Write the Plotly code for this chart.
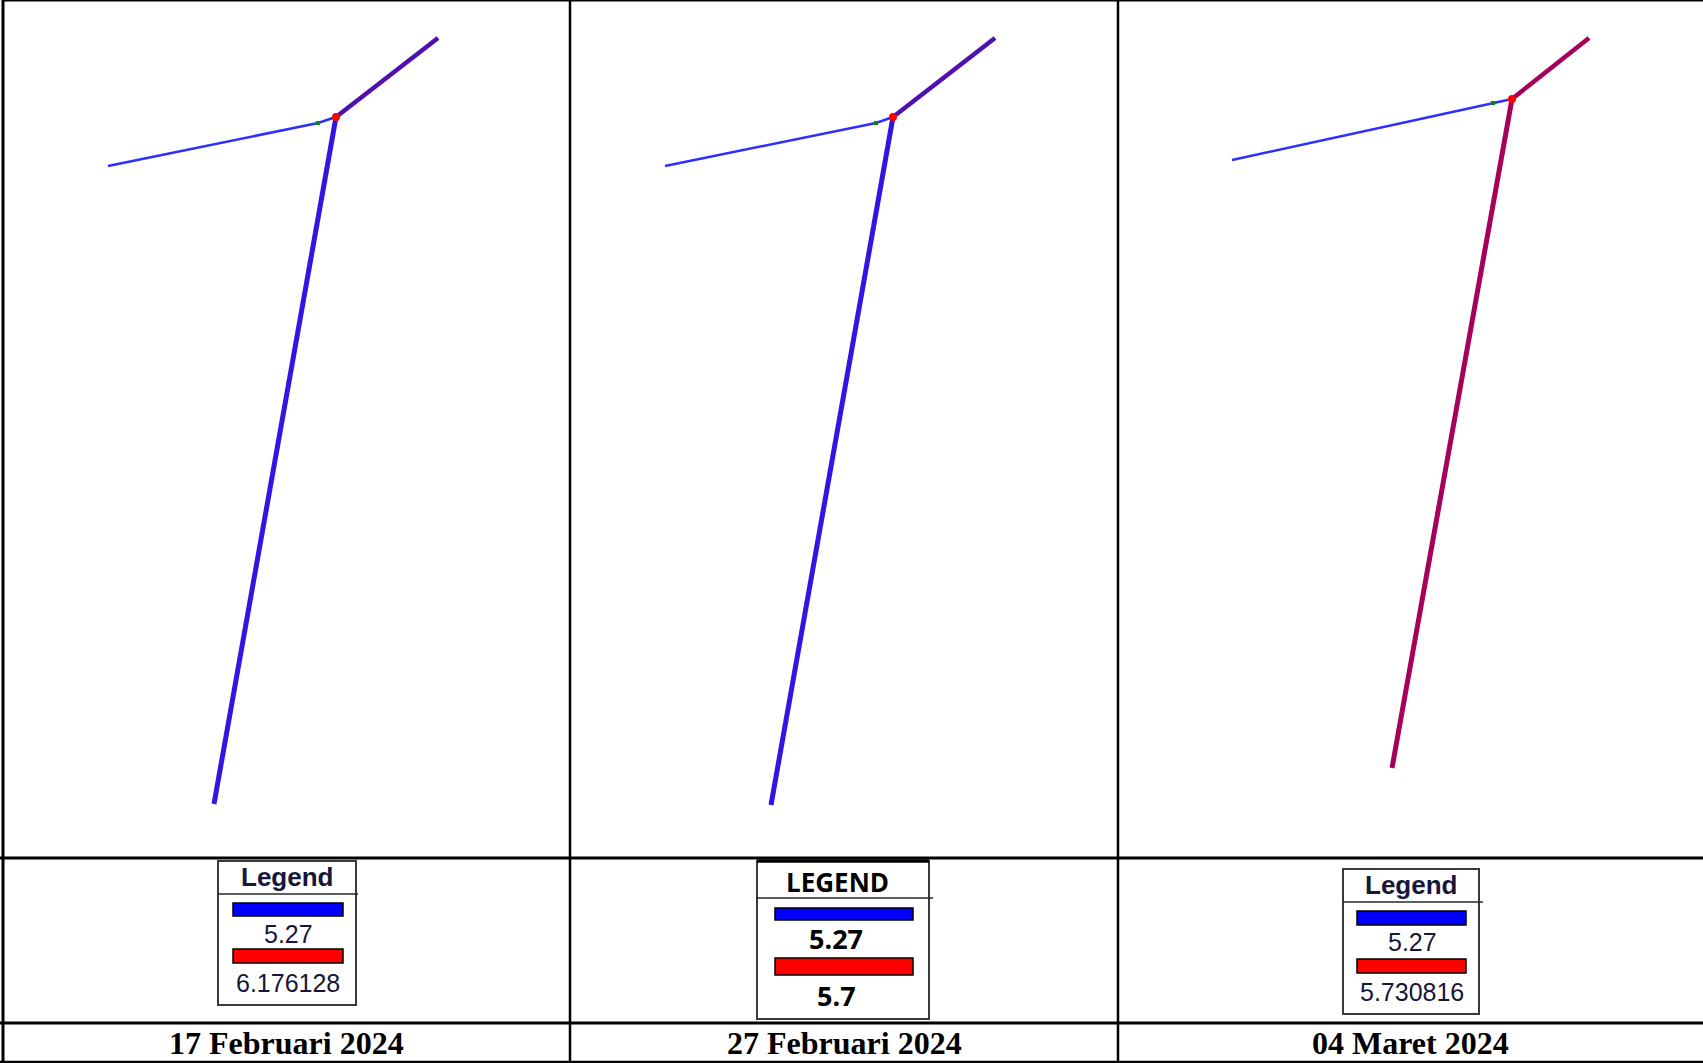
import plotly.graph_objects as go

W, H = 1703, 1063

# ---- data ----
dates = ["17 Februari 2024", "27 Februari 2024", "04 Maret 2024"]
legend_titles = ["Legend", "LEGEND", "Legend"]
legend_blue_vals = ["5.27", "5.27", "5.27"]
legend_red_vals = ["6.176128", "5.7", "5.730816"]

# network nodes per panel, local map units (one unit per pixel of the panel)
west_x = [105, 95, 114]
west_y = [166, 166, 160]
gauge_x = [315, 306, 375]
gauge_y = [123, 123, 103]
junc_x = [333, 323, 394]
junc_y = [117, 117, 99]
ne_x = [435, 425, 471]
ne_y = [38, 38, 38]
south_x = [211, 201, 274]
south_y = [804, 805, 768]

# ---- styles ----
panel_left = [3, 570, 1118]
panel_right = [570, 1118, 1702]
map_bottom = 858
west_color = "#2e2eff"
ne_colors = ["#5010b0", "#5010b0", "#a6005a"]
south_colors = ["#3414e4", "#3414e4", "#a6005a"]


def px(x):
    return x / W


def py(y):
    return 1 - y / H


fig = go.Figure()
axis_off = dict(visible=False, showgrid=False, zeroline=False, fixedrange=True)
layout_axes = {}
for i in range(3):
    sx = "" if i == 0 else str(i + 1)
    xa, ya = "x" + sx, "y" + sx
    layout_axes["xaxis" + sx] = dict(axis_off, domain=[px(panel_left[i]), px(panel_right[i])],
                                     range=[0, panel_right[i] - panel_left[i]], anchor=ya)
    layout_axes["yaxis" + sx] = dict(axis_off, domain=[py(map_bottom), 1],
                                     range=[map_bottom, 0], anchor=xa)
    # west branch (thin blue)
    fig.add_trace(go.Scatter(x=[west_x[i], gauge_x[i], junc_x[i]], y=[west_y[i], gauge_y[i], junc_y[i]],
                             mode="lines", line=dict(color=west_color, width=2.5),
                             xaxis=xa, yaxis=ya, hoverinfo="skip"))
    # north-east branch
    fig.add_trace(go.Scatter(x=[junc_x[i], ne_x[i]], y=[junc_y[i], ne_y[i]],
                             mode="lines", line=dict(color=ne_colors[i], width=4.5),
                             xaxis=xa, yaxis=ya, hoverinfo="skip"))
    # south branch
    fig.add_trace(go.Scatter(x=[junc_x[i], south_x[i]], y=[junc_y[i], south_y[i]],
                             mode="lines", line=dict(color=south_colors[i], width=5),
                             xaxis=xa, yaxis=ya, hoverinfo="skip"))
    # gauge point (green) and junction (red)
    fig.add_trace(go.Scatter(x=[gauge_x[i]], y=[gauge_y[i]], mode="markers",
                             marker=dict(color="#0a8a0a", size=4, symbol="square"),
                             xaxis=xa, yaxis=ya, hoverinfo="skip"))
    fig.add_trace(go.Scatter(x=[junc_x[i]], y=[junc_y[i]], mode="markers",
                             marker=dict(color="#ff0000", size=8),
                             xaxis=xa, yaxis=ya, hoverinfo="skip"))

shapes = []


def line(x0, y0, x1, y1, w=2.5, c="#000000"):
    shapes.append(dict(type="line", xref="paper", yref="paper", x0=px(x0), y0=py(y0),
                       x1=px(x1), y1=py(y1), line=dict(color=c, width=w)))


def rect(x0, y0, x1, y1, fill="rgba(0,0,0,0)", lc="#000000", w=1.5):
    shapes.append(dict(type="rect", xref="paper", yref="paper", x0=px(x0), y0=py(y0),
                       x1=px(x1), y1=py(y1), fillcolor=fill, line=dict(color=lc, width=w)))


# table borders
line(3, 0.7, W, 0.7, 1.5)
line(3, 0, 3, H, 3)
line(570, 0, 570, H, 2.5)
line(1118, 0, 1118, H, 2.5)
line(0, 858, W, 858, 3)
line(0, 1023, W, 1023, 3)
line(0, 1062, W, 1062, 2.5)

annotations = []


def text(x, y, s, size, family, bold=False, color="#16163a"):
    annotations.append(dict(xref="paper", yref="paper", x=px(x), y=py(y), text=(f"<b>{s}</b>" if bold else s),
                            showarrow=False, xanchor="center", yanchor="middle",
                            font=dict(size=size, family=family, color=color)))


# legend boxes (layout per panel)
leg = [
    dict(box=(218, 861, 356, 1005), sep=(894, 358), blue=(233, 903, 343, 916), red=(233, 949, 343, 963),
         t=(287, 877), b=(288, 934), r=(288, 983), fam="Liberation Sans, Arial", vb=False, ts=26, vs=25),
    dict(box=(757, 861, 929, 1019), sep=(898, 933), blue=(775, 908, 913, 920), red=(775, 958, 913, 975),
         t=(837, 882), b=(836, 938), r=(836, 995), fam="Open Sans", vb=True, ts=26, vs=27),
    dict(box=(1343, 869, 1479, 1014), sep=(902, 1483), blue=(1357, 911, 1466, 925), red=(1357, 959, 1466, 973),
         t=(1411, 885), b=(1412, 942), r=(1412, 992), fam="Liberation Sans, Arial", vb=False, ts=26, vs=25),
]
for i, L in enumerate(leg):
    x0, y0, x1, y1 = L["box"]
    rect(x0, y0, x1, y1, lc="#3a3a3a", w=2)
    if i == 1:
        line(x0, y0, x1, y0, 3.5)
    line(x0, L["sep"][0], L["sep"][1], L["sep"][0], 1.5, "#2a2a2a")
    rect(*L["blue"], fill="#0000ff", lc="#000000", w=1.5)
    rect(*L["red"], fill="#ff0000", lc="#000000", w=1.5)
    col = "#16163a" if i != 1 else "#000000"
    text(L["t"][0], L["t"][1], legend_titles[i], L["ts"], L["fam"], bold=True, color=col)
    text(L["b"][0], L["b"][1], legend_blue_vals[i], L["vs"], L["fam"], bold=L["vb"], color=col)
    text(L["r"][0], L["r"][1], legend_red_vals[i], L["vs"], L["fam"], bold=L["vb"], color=col)

# date row
for i, d in enumerate(dates):
    text((panel_left[i] + panel_right[i]) / 2, 1043, d, 32, "Liberation Serif, Times New Roman", bold=True,
         color="#000000")

fig.update_layout(width=W, height=H, margin=dict(l=0, r=0, t=0, b=0), autosize=False,
                  paper_bgcolor="white", plot_bgcolor="white", showlegend=False,
                  shapes=shapes, annotations=annotations, **layout_axes)

fig.write_html("out.html", config=dict(displayModeBar=False),
               post_script="document.body.style.margin='0';document.body.style.overflow='hidden';"
                           "document.documentElement.style.overflow='hidden';")
